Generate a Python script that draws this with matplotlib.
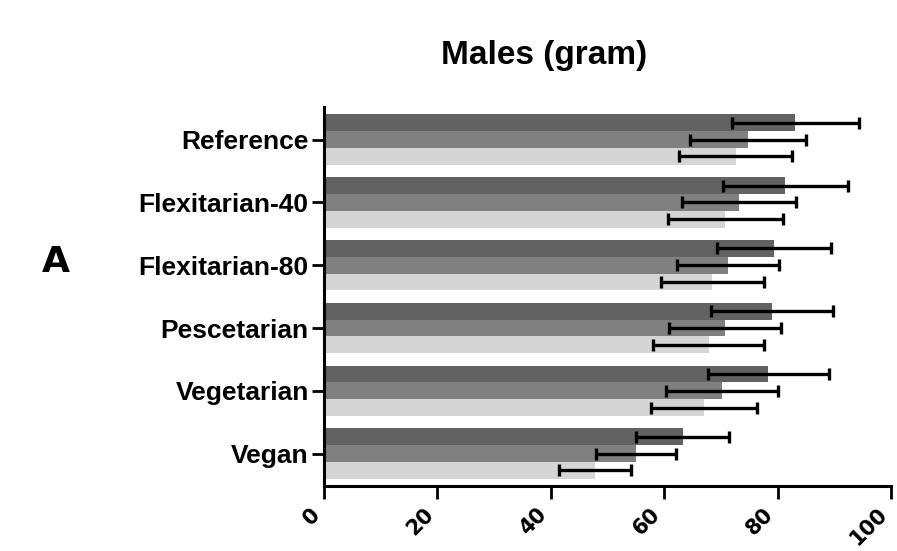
import numpy as np
import matplotlib
matplotlib.use("Agg")
import matplotlib.pyplot as plt

# Datos (gramos)
diets = ["Reference", "Flexitarian-40", "Flexitarian-80", "Pescetarian", "Vegetarian", "Vegan"]
dark_vals = [83.1, 81.4, 79.4, 79.0, 78.4, 63.3]
dark_sd = [11.2, 11.1, 10.0, 10.8, 10.7, 8.2]
mid_vals = [74.8, 73.2, 71.2, 70.7, 70.2, 55.0]
mid_sd = [10.2, 10.1, 9.0, 9.9, 9.9, 7.1]
light_vals = [72.6, 70.8, 68.5, 67.9, 67.0, 47.8]
light_sd = [10.0, 10.1, 9.1, 9.8, 9.3, 6.4]
xticks = [0, 20, 40, 60, 80, 100]

fig = plt.figure(figsize=(8.97, 5.51), dpi=100)
ax = fig.add_axes([0.3612, 0.118, 0.632, 0.688])

y = np.arange(len(diets))
h = 0.267
series = [(dark_vals, dark_sd, "#626262", -h),
          (mid_vals, mid_sd, "#808080", 0),
          (light_vals, light_sd, "#d5d5d5", h)]
for vals, sd, col, off in series:
    ax.barh(y + off, vals, height=h, color=col, edgecolor="none")
    ax.errorbar(vals, y + off, xerr=sd, fmt="none", ecolor="black",
                elinewidth=2.4, capsize=4.2, capthick=2.4)

ax.set_xlim(0, 100)
ax.set_ylim(5.515, -0.52)
ax.set_xticks(xticks)
ax.set_xticklabels([str(t) for t in xticks], rotation=45, ha="right",
                   fontsize=15, fontweight="bold", family="DejaVu Sans")
ax.set_yticks(y)
ax.set_yticklabels(diets, fontsize=19, fontweight="bold", family="Liberation Sans")

for s in ["top", "right"]:
    ax.spines[s].set_visible(False)
for s in ["left", "bottom"]:
    ax.spines[s].set_linewidth(2.2)
ax.tick_params(axis="x", length=9, width=2.0, pad=4)
ax.tick_params(axis="y", length=9, width=2.0, pad=2)

fig.text(0.6065, 0.90, "Males (gram)", ha="center", va="center",
         fontsize=24, fontweight="bold", family="Liberation Sans")
fig.text(0.062, 0.525, "A", ha="center", va="center",
         fontsize=26, fontweight="bold", family="DejaVu Sans")

fig.savefig("out.png", dpi=100)
